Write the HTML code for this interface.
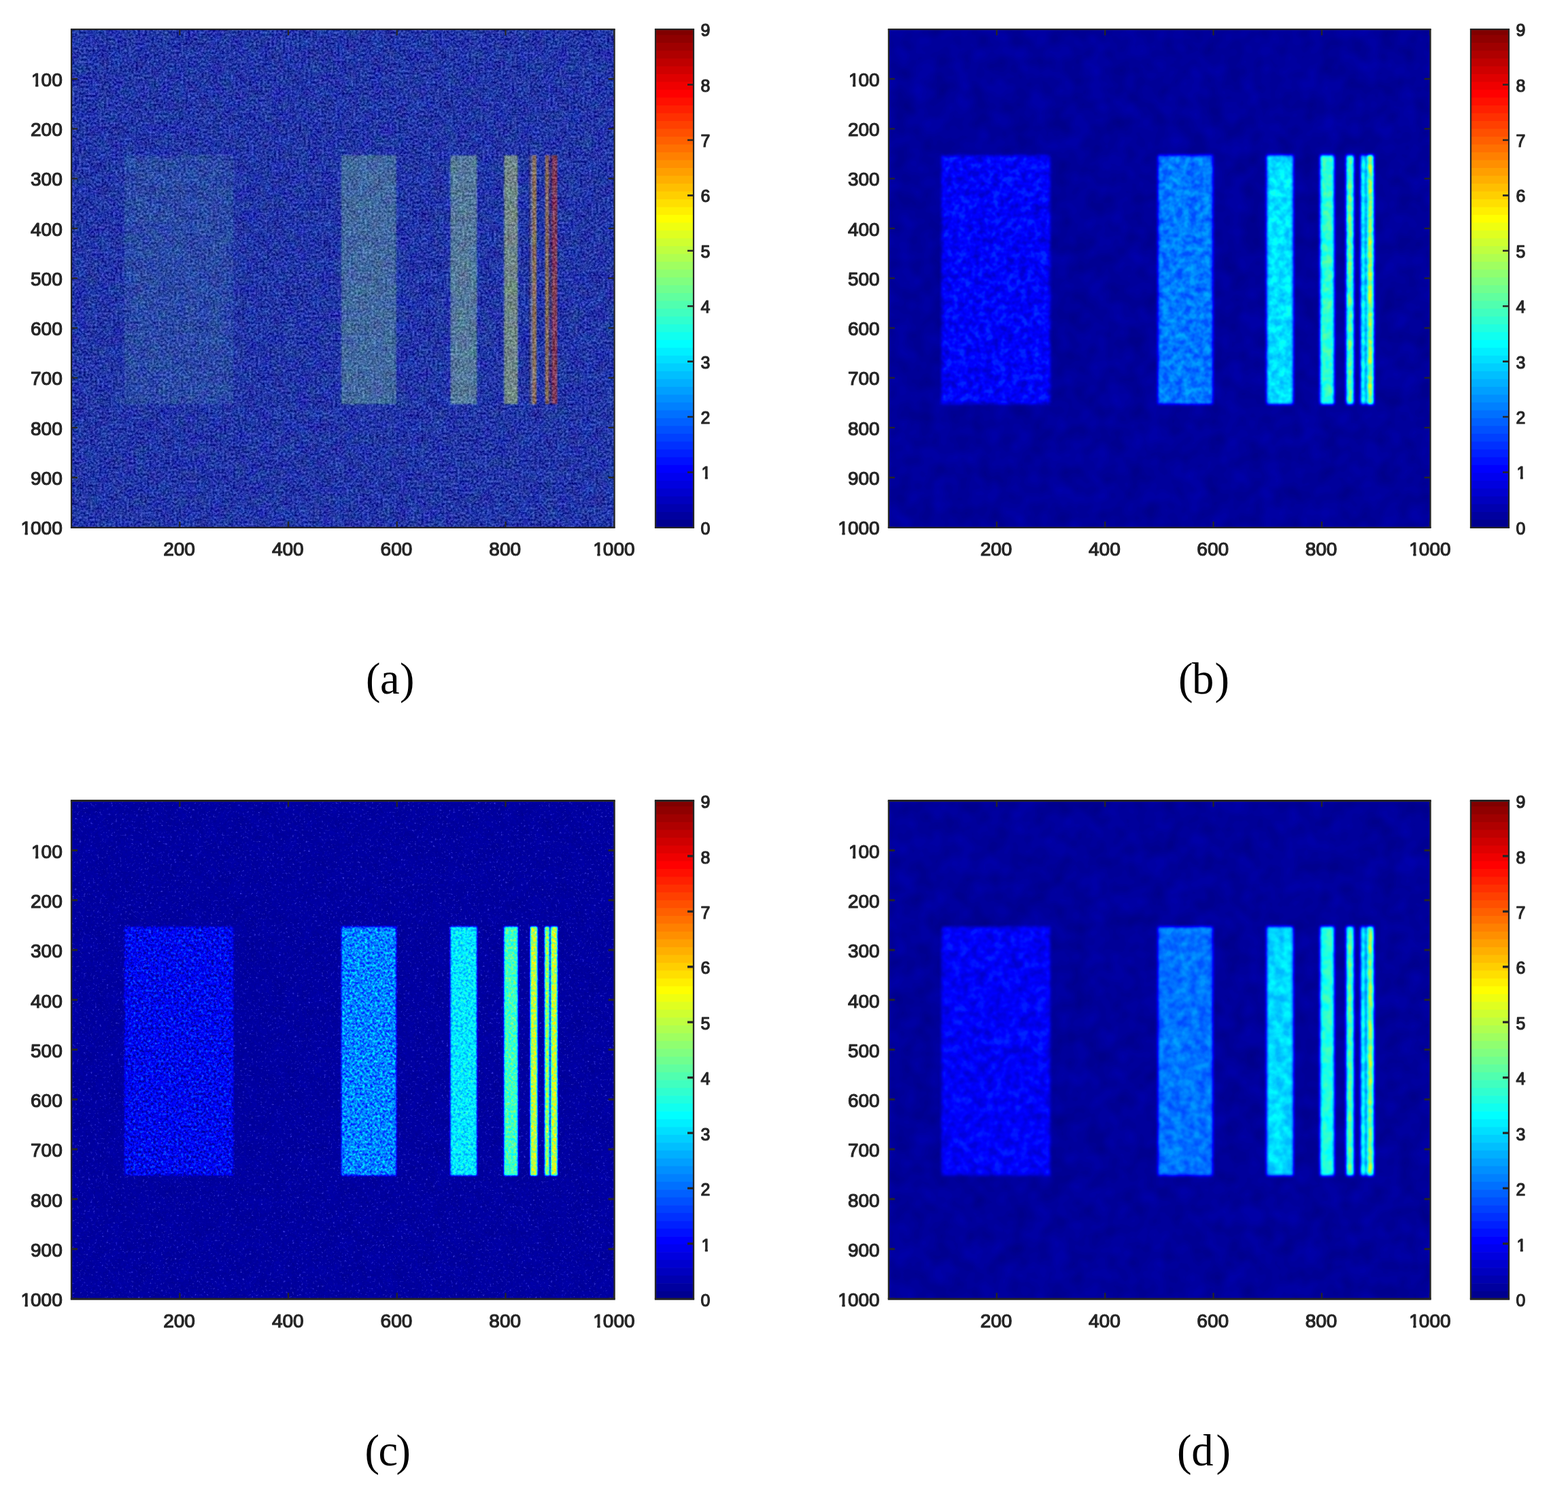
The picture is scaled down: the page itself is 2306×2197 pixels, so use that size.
<!DOCTYPE html>
<html lang="en"><head><meta charset="utf-8"><title>Figure</title>
<style>
html,body{margin:0;padding:0;background:#fff;}
body{width:2306px;height:2197px;overflow:hidden;}
svg{display:block;}
.t,.c{font-family:"Liberation Sans",Arial,Helvetica,sans-serif;fill:#262626;stroke:#262626;stroke-width:1.2px;stroke-linejoin:round;}
.t{font-size:28px;}
.c{font-size:25px;}
.cap{font-family:"Liberation Serif","DejaVu Serif",serif;font-size:64.5px;fill:#000;}
.ax{fill:none;stroke:#262626;}
</style></head><body>
<svg width="2306" height="2197" viewBox="0 0 2306 2197">
<rect x="0" y="0" width="2306" height="2197" fill="#fff"/>
<defs>
<clipPath id="one-t"><path d="M-6 -28L77.84 -28L77.84 4L16.31 4L16.31 -3.6L11.31 -3.6L11.31 4L7.1 4L7.1 -3.6L-6 -3.6Z"/></clipPath>
<clipPath id="one-c"><path d="M-6 -25L69.5 -25L69.5 4L14.8 4L14.8 -3.38L10.3 -3.38L10.3 4L6.35 4L6.35 -3.38L-6 -3.38Z"/></clipPath>
<g id="cb">
<rect x="0" y="0" width="56" height="9" fill="#800000"/>
<rect x="0" y="8.4" width="56" height="12.1" fill="#8f0000"/>
<rect x="0" y="19.9" width="56" height="12.1" fill="#9f0000"/>
<rect x="0" y="31.4" width="56" height="12.1" fill="#af0000"/>
<rect x="0" y="42.9" width="56" height="12.1" fill="#bf0000"/>
<rect x="0" y="54.39" width="56" height="12.1" fill="#cf0000"/>
<rect x="0" y="65.89" width="56" height="12.1" fill="#df0000"/>
<rect x="0" y="77.39" width="56" height="12.1" fill="#ef0000"/>
<rect x="0" y="88.89" width="56" height="12.1" fill="#ff0000"/>
<rect x="0" y="100.39" width="56" height="12.1" fill="#ff1000"/>
<rect x="0" y="111.89" width="56" height="12.1" fill="#ff2000"/>
<rect x="0" y="123.38" width="56" height="12.1" fill="#ff3000"/>
<rect x="0" y="134.88" width="56" height="12.1" fill="#ff4000"/>
<rect x="0" y="146.38" width="56" height="12.1" fill="#ff5000"/>
<rect x="0" y="157.88" width="56" height="12.1" fill="#ff6000"/>
<rect x="0" y="169.38" width="56" height="12.1" fill="#ff7000"/>
<rect x="0" y="180.88" width="56" height="12.1" fill="#ff8000"/>
<rect x="0" y="192.37" width="56" height="12.1" fill="#ff8f00"/>
<rect x="0" y="203.87" width="56" height="12.1" fill="#ff9f00"/>
<rect x="0" y="215.37" width="56" height="12.1" fill="#ffaf00"/>
<rect x="0" y="226.87" width="56" height="12.1" fill="#ffbf00"/>
<rect x="0" y="238.37" width="56" height="12.1" fill="#ffcf00"/>
<rect x="0" y="249.87" width="56" height="12.1" fill="#ffdf00"/>
<rect x="0" y="261.37" width="56" height="12.1" fill="#ffef00"/>
<rect x="0" y="272.86" width="56" height="12.1" fill="#ffff00"/>
<rect x="0" y="284.36" width="56" height="12.1" fill="#efff10"/>
<rect x="0" y="295.86" width="56" height="12.1" fill="#dfff20"/>
<rect x="0" y="307.36" width="56" height="12.1" fill="#cfff30"/>
<rect x="0" y="318.86" width="56" height="12.1" fill="#bfff40"/>
<rect x="0" y="330.36" width="56" height="12.1" fill="#afff50"/>
<rect x="0" y="341.85" width="56" height="12.1" fill="#9fff60"/>
<rect x="0" y="353.35" width="56" height="12.1" fill="#8fff70"/>
<rect x="0" y="364.85" width="56" height="12.1" fill="#80ff80"/>
<rect x="0" y="376.35" width="56" height="12.1" fill="#70ff8f"/>
<rect x="0" y="387.85" width="56" height="12.1" fill="#60ff9f"/>
<rect x="0" y="399.35" width="56" height="12.1" fill="#50ffaf"/>
<rect x="0" y="410.84" width="56" height="12.1" fill="#40ffbf"/>
<rect x="0" y="422.34" width="56" height="12.1" fill="#30ffcf"/>
<rect x="0" y="433.84" width="56" height="12.1" fill="#20ffdf"/>
<rect x="0" y="445.34" width="56" height="12.1" fill="#10ffef"/>
<rect x="0" y="456.84" width="56" height="12.1" fill="#00ffff"/>
<rect x="0" y="468.34" width="56" height="12.1" fill="#00efff"/>
<rect x="0" y="479.83" width="56" height="12.1" fill="#00dfff"/>
<rect x="0" y="491.33" width="56" height="12.1" fill="#00cfff"/>
<rect x="0" y="502.83" width="56" height="12.1" fill="#00bfff"/>
<rect x="0" y="514.33" width="56" height="12.1" fill="#00afff"/>
<rect x="0" y="525.83" width="56" height="12.1" fill="#009fff"/>
<rect x="0" y="537.33" width="56" height="12.1" fill="#008fff"/>
<rect x="0" y="548.83" width="56" height="12.1" fill="#0080ff"/>
<rect x="0" y="560.32" width="56" height="12.1" fill="#0070ff"/>
<rect x="0" y="571.82" width="56" height="12.1" fill="#0060ff"/>
<rect x="0" y="583.32" width="56" height="12.1" fill="#0050ff"/>
<rect x="0" y="594.82" width="56" height="12.1" fill="#0040ff"/>
<rect x="0" y="606.32" width="56" height="12.1" fill="#0030ff"/>
<rect x="0" y="617.82" width="56" height="12.1" fill="#0020ff"/>
<rect x="0" y="629.31" width="56" height="12.1" fill="#0010ff"/>
<rect x="0" y="640.81" width="56" height="12.1" fill="#0000ff"/>
<rect x="0" y="652.31" width="56" height="12.1" fill="#0000ef"/>
<rect x="0" y="663.81" width="56" height="12.1" fill="#0000df"/>
<rect x="0" y="675.31" width="56" height="12.1" fill="#0000cf"/>
<rect x="0" y="686.81" width="56" height="12.1" fill="#0000bf"/>
<rect x="0" y="698.3" width="56" height="12.1" fill="#0000af"/>
<rect x="0" y="709.8" width="56" height="12.1" fill="#00009f"/>
<rect x="0" y="721.3" width="56" height="11.5" fill="#00008f"/>
</g>
<clipPath id="clip-a"><rect x="105" y="43.1" width="798.6" height="732.8"/></clipPath>
<filter id="f-a" filterUnits="userSpaceOnUse" x="99" y="37.1" width="810.6" height="744.8" color-interpolation-filters="sRGB">
<feGaussianBlur in="SourceGraphic" stdDeviation="1.3" result="src"/>
<feTurbulence type="fractalNoise" baseFrequency="0.3" numOctaves="3" seed="11" result="tb"/>
<feColorMatrix in="tb" type="matrix" values="1 0 0 0 0 1 0 0 0 0 1 0 0 0 0 0 0 0 0 1" result="n"/>
<feTurbulence type="fractalNoise" baseFrequency="0.055" numOctaves="2" seed="4" result="tc"/>
<feColorMatrix in="tc" type="matrix" values="0.5 0 0 0 0.25 0 1 0 0 0 0 0 1 0 0 0 0 0 0 1" result="nc"/>
<feComposite in="src" in2="n" operator="arithmetic" k1="0" k2="1" k3="0.55" k4="-0.275" result="s1"/>
<feComposite in="s1" in2="nc" operator="arithmetic" k1="0" k2="1" k3="0.16" k4="-0.08"/>
</filter>
<clipPath id="clip-b"><rect x="1306.9" y="43.1" width="796.7" height="732.8"/></clipPath>
<filter id="f-b" filterUnits="userSpaceOnUse" x="1300.9" y="37.1" width="808.7" height="744.8" color-interpolation-filters="sRGB">
<feGaussianBlur in="SourceGraphic" stdDeviation="1.9" result="src"/>
<feTurbulence type="fractalNoise" baseFrequency="0.1" numOctaves="2" seed="5" result="tb"/>
<feColorMatrix in="tb" type="matrix" values="1 0 0 0 0 1 0 0 0 0 1 0 0 0 0 0 0 0 0 1" result="n"/>
<feTurbulence type="fractalNoise" baseFrequency="0.035" numOctaves="2" seed="8" result="tc"/>
<feColorMatrix in="tc" type="matrix" values="1 0 0 0 0 1 0 0 0 0 1 0 0 0 0 0 0 0 0 1" result="nc"/>
<feColorMatrix in="src" type="matrix" values="1 0 0 0 0 1 0 0 0 0 1 0 0 0 0 0 0 0 0 1" result="base"/>
<feColorMatrix in="src" type="matrix" values="0 1 0 0 0 0 1 0 0 0 0 1 0 0 0 0 0 0 0 1" result="gain"/>
<feColorMatrix in="n" type="matrix" values="2 0 0 0 -0.5 2 0 0 0 -0.5 2 0 0 0 -0.5 0 0 0 0 1" result="n2"/>
<feComposite in="gain" in2="n2" operator="arithmetic" k1="0.15" k2="0" k3="0" k4="0" result="gn"/>
<feComposite in="base" in2="gn" operator="arithmetic" k1="0" k2="1" k3="1" k4="0" result="b1"/>
<feComposite in="b1" in2="nc" operator="arithmetic" k1="0" k2="1" k3="0.045" k4="0" result="v"/>
<feComponentTransfer in="v"><feFuncR type="table" tableValues="0 0 0 0 0.5 1 1 1 0.5"/><feFuncG type="table" tableValues="0 0 0.5 1 1 1 0.5 0 0"/><feFuncB type="table" tableValues="0.5 1 1 1 0.5 0 0 0 0"/></feComponentTransfer>
</filter>
<clipPath id="clip-c"><rect x="105" y="1177.5" width="798.6" height="732.8"/></clipPath>
<filter id="f-c" filterUnits="userSpaceOnUse" x="99" y="1171.5" width="810.6" height="744.8" color-interpolation-filters="sRGB">
<feGaussianBlur in="SourceGraphic" stdDeviation="0.9" result="src"/>
<feTurbulence type="fractalNoise" baseFrequency="0.27" numOctaves="2" seed="21" result="tb"/>
<feColorMatrix in="tb" type="matrix" values="1 0 0 0 0 1 0 0 0 0 1 0 0 0 0 0 0 0 0 1" result="n"/>
<feTurbulence type="fractalNoise" baseFrequency="0.05" numOctaves="2" seed="3" result="tc"/>
<feColorMatrix in="tc" type="matrix" values="1 0 0 0 0 1 0 0 0 0 1 0 0 0 0 0 0 0 0 1" result="nc"/>
<feColorMatrix in="src" type="matrix" values="1 0 0 0 0 1 0 0 0 0 1 0 0 0 0 0 0 0 0 1" result="base"/>
<feColorMatrix in="src" type="matrix" values="0 1 0 0 0 0 1 0 0 0 0 1 0 0 0 0 0 0 0 1" result="gain"/>
<feColorMatrix in="n" type="matrix" values="2 0 0 0 -0.5 2 0 0 0 -0.5 2 0 0 0 -0.5 0 0 0 0 1" result="n2"/>
<feComposite in="gain" in2="n2" operator="arithmetic" k1="0.2" k2="0" k3="0" k4="0" result="gn"/>
<feComposite in="base" in2="gn" operator="arithmetic" k1="0" k2="1" k3="1" k4="0" result="b1"/>
<feComposite in="b1" in2="nc" operator="arithmetic" k1="0" k2="1" k3="0.02" k4="0" result="v"/>
<feComponentTransfer in="v" result="j"><feFuncR type="table" tableValues="0 0 0 0 0.5 1 1 1 0.5"/><feFuncG type="table" tableValues="0 0 0.5 1 1 1 0.5 0 0"/><feFuncB type="table" tableValues="0.5 1 1 1 0.5 0 0 0 0"/></feComponentTransfer>
<feTurbulence type="fractalNoise" baseFrequency="0.3" numOctaves="2" seed="7" result="ts"/>
<feColorMatrix in="ts" type="matrix" values="1 0 0 0 0 1 0 0 0 0 1 0 0 0 0 0 0 0 0 1" result="ns"/>
<feComponentTransfer in="ns" result="sp"><feFuncR type="linear" slope="4" intercept="-2.5"/><feFuncG type="linear" slope="4" intercept="-2.5"/><feFuncB type="linear" slope="4" intercept="-2.5"/></feComponentTransfer>
<feComposite in="j" in2="sp" operator="arithmetic" k1="0" k2="1" k3="0.22" k4="0"/>
</filter>
<clipPath id="clip-d"><rect x="1306.9" y="1177.5" width="796.7" height="732.8"/></clipPath>
<filter id="f-d" filterUnits="userSpaceOnUse" x="1300.9" y="1171.5" width="808.7" height="744.8" color-interpolation-filters="sRGB">
<feGaussianBlur in="SourceGraphic" stdDeviation="2.2" result="src"/>
<feTurbulence type="fractalNoise" baseFrequency="0.08" numOctaves="2" seed="5" result="tb"/>
<feColorMatrix in="tb" type="matrix" values="1 0 0 0 0 1 0 0 0 0 1 0 0 0 0 0 0 0 0 1" result="n"/>
<feTurbulence type="fractalNoise" baseFrequency="0.035" numOctaves="2" seed="8" result="tc"/>
<feColorMatrix in="tc" type="matrix" values="1 0 0 0 0 1 0 0 0 0 1 0 0 0 0 0 0 0 0 1" result="nc"/>
<feColorMatrix in="src" type="matrix" values="1 0 0 0 0 1 0 0 0 0 1 0 0 0 0 0 0 0 0 1" result="base"/>
<feColorMatrix in="src" type="matrix" values="0 1 0 0 0 0 1 0 0 0 0 1 0 0 0 0 0 0 0 1" result="gain"/>
<feColorMatrix in="n" type="matrix" values="2 0 0 0 -0.5 2 0 0 0 -0.5 2 0 0 0 -0.5 0 0 0 0 1" result="n2"/>
<feComposite in="gain" in2="n2" operator="arithmetic" k1="0.15" k2="0" k3="0" k4="0" result="gn"/>
<feComposite in="base" in2="gn" operator="arithmetic" k1="0" k2="1" k3="1" k4="0" result="b1"/>
<feComposite in="b1" in2="nc" operator="arithmetic" k1="0" k2="1" k3="0.045" k4="0" result="v"/>
<feComponentTransfer in="v"><feFuncR type="table" tableValues="0 0 0 0 0.5 1 1 1 0.5"/><feFuncG type="table" tableValues="0 0 0.5 1 1 1 0.5 0 0"/><feFuncB type="table" tableValues="0.5 1 1 1 0.5 0 0 0 0"/></feComponentTransfer>
</filter>
</defs>
<g id="panel-a">
<g clip-path="url(#clip-a)"><g filter="url(#f-a)">
<rect x="97" y="35.1" width="814.6" height="748.8" fill="#2235a7"/>
<rect x="183.02" y="228.28" width="160.28" height="365.96" fill="#2b49a6"/>
<rect x="501.98" y="228.28" width="80.82" height="365.96" fill="#4268a0"/>
<rect x="662.42" y="228.28" width="38.89" height="365.96" fill="#54789b"/>
<rect x="741.32" y="228.28" width="20.2" height="365.96" fill="#708787"/>
<rect x="777.98" y="228.28" width="2.32" height="365.96" fill="#28286e"/>
<rect x="780.3" y="228.28" width="2.72" height="365.96" fill="#646ea5"/>
<rect x="783.01" y="228.28" width="5.99" height="365.96" fill="#8c705a"/>
<rect x="801.78" y="228.28" width="5.75" height="365.96" fill="#8c6e58"/>
<rect x="807.53" y="228.28" width="4.23" height="365.96" fill="#3c3278"/>
<rect x="811.76" y="228.28" width="7.83" height="365.96" fill="#823c58"/>
</g></g>
<path class="ax" d="M264.32 775.9v-9M264.32 43.1v9M424.04 775.9v-9M424.04 43.1v9M583.76 775.9v-9M583.76 43.1v9M743.48 775.9v-9M743.48 43.1v9M903.2 775.9v-9M903.2 43.1v9M105 43.1v732.8M903.6 43.1v732.8" stroke-width="2.2"/>
<path class="ax" d="M105 116.01h9M903.6 116.01h-9M105 189.29h9M903.6 189.29h-9M105 262.57h9M903.6 262.57h-9M105 335.85h9M903.6 335.85h-9M105 409.13h9M903.6 409.13h-9M105 482.41h9M903.6 482.41h-9M105 555.69h9M903.6 555.69h-9M105 628.97h9M903.6 628.97h-9M105 702.25h9M903.6 702.25h-9M105 775.53h9M903.6 775.53h-9M103.9 43.1h800.8M103.9 775.9h800.8" stroke-width="2.3"/>
<text class="t" clip-path="url(#one-t)" transform="translate(45 126.71)" dx="1 -1">100</text>
<text class="t" x="45" y="199.99">200</text>
<text class="t" x="45" y="273.27">300</text>
<text class="t" x="45" y="346.55">400</text>
<text class="t" x="45" y="419.83">500</text>
<text class="t" x="45" y="493.11">600</text>
<text class="t" x="45" y="566.39">700</text>
<text class="t" x="45" y="639.67">800</text>
<text class="t" x="45" y="712.95">900</text>
<text class="t" clip-path="url(#one-t)" transform="translate(29.43 786.23)" dx="1 -1">1000</text>
<text class="t" x="240.17" y="816.5">200</text>
<text class="t" x="399.89" y="816.5">400</text>
<text class="t" x="559.61" y="816.5">600</text>
<text class="t" x="719.33" y="816.5">800</text>
<text class="t" clip-path="url(#one-t)" transform="translate(871.26 816.5)" dx="1 -1">1000</text>
<use href="#cb" x="964" y="43.1"/>
<path class="ax" d="M1020 694.48h-9M1020 613.06h-9M1020 531.63h-9M1020 450.21h-9M1020 368.79h-9M1020 287.37h-9M1020 205.94h-9M1020 124.52h-9" stroke-width="2.6"/>
<path class="ax" d="M964 43.1v732.8M1020 43.1v732.8" stroke-width="2.2"/>
<path class="ax" d="M962.9 43.1h58.2M962.9 775.9h58.2" stroke-width="2.3"/>
<text class="c" x="1030.5" y="785.9">0</text>
<text class="c" clip-path="url(#one-c)" transform="translate(1030.5 704.48)" dx="1">1</text>
<text class="c" x="1030.5" y="623.06">2</text>
<text class="c" x="1030.5" y="541.63">3</text>
<text class="c" x="1030.5" y="460.21">4</text>
<text class="c" x="1030.5" y="378.79">5</text>
<text class="c" x="1030.5" y="297.37">6</text>
<text class="c" x="1030.5" y="215.94">7</text>
<text class="c" x="1030.5" y="134.52">8</text>
<text class="c" x="1030.5" y="53.1">9</text>
</g>
<g id="panel-b">
<g clip-path="url(#clip-b)"><g filter="url(#f-b)">
<rect x="1298.9" y="35.1" width="812.7" height="748.8" fill="rgb(1,0,0)"/>
<rect x="1384.74" y="228.28" width="159.9" height="365.96" fill="rgb(16,128,0)"/>
<rect x="1702.94" y="228.28" width="80.63" height="365.96" fill="rgb(47,128,0)"/>
<rect x="1863" y="228.28" width="38.8" height="365.96" fill="rgb(74,115,0)"/>
<rect x="1941.71" y="228.28" width="20.16" height="365.96" fill="rgb(92,128,0)"/>
<rect x="1980.27" y="228.28" width="10.28" height="365.96" fill="rgb(103,178,0)"/>
<rect x="2001.46" y="228.28" width="6.69" height="365.96" fill="rgb(88,178,0)"/>
<rect x="2010.39" y="228.28" width="9.48" height="365.96" fill="rgb(115,230,0)"/>
</g></g>
<path class="ax" d="M1465.84 775.9v-9M1465.84 43.1v9M1625.18 775.9v-9M1625.18 43.1v9M1784.52 775.9v-9M1784.52 43.1v9M1943.86 775.9v-9M1943.86 43.1v9M2103.2 775.9v-9M2103.2 43.1v9M1306.9 43.1v732.8M2103.6 43.1v732.8" stroke-width="2.2"/>
<path class="ax" d="M1306.9 116.01h9M2103.6 116.01h-9M1306.9 189.29h9M2103.6 189.29h-9M1306.9 262.57h9M2103.6 262.57h-9M1306.9 335.85h9M2103.6 335.85h-9M1306.9 409.13h9M2103.6 409.13h-9M1306.9 482.41h9M2103.6 482.41h-9M1306.9 555.69h9M2103.6 555.69h-9M1306.9 628.97h9M2103.6 628.97h-9M1306.9 702.25h9M2103.6 702.25h-9M1306.9 775.53h9M2103.6 775.53h-9M1305.8 43.1h798.9M1305.8 775.9h798.9" stroke-width="2.3"/>
<text class="t" clip-path="url(#one-t)" transform="translate(1246.9 126.71)" dx="1 -1">100</text>
<text class="t" x="1246.9" y="199.99">200</text>
<text class="t" x="1246.9" y="273.27">300</text>
<text class="t" x="1246.9" y="346.55">400</text>
<text class="t" x="1246.9" y="419.83">500</text>
<text class="t" x="1246.9" y="493.11">600</text>
<text class="t" x="1246.9" y="566.39">700</text>
<text class="t" x="1246.9" y="639.67">800</text>
<text class="t" x="1246.9" y="712.95">900</text>
<text class="t" clip-path="url(#one-t)" transform="translate(1231.33 786.23)" dx="1 -1">1000</text>
<text class="t" x="1441.69" y="816.5">200</text>
<text class="t" x="1601.03" y="816.5">400</text>
<text class="t" x="1760.37" y="816.5">600</text>
<text class="t" x="1919.71" y="816.5">800</text>
<text class="t" clip-path="url(#one-t)" transform="translate(2071.27 816.5)" dx="1 -1">1000</text>
<use href="#cb" x="2163" y="43.1"/>
<path class="ax" d="M2219 694.48h-9M2219 613.06h-9M2219 531.63h-9M2219 450.21h-9M2219 368.79h-9M2219 287.37h-9M2219 205.94h-9M2219 124.52h-9" stroke-width="2.6"/>
<path class="ax" d="M2163 43.1v732.8M2219 43.1v732.8" stroke-width="2.2"/>
<path class="ax" d="M2161.9 43.1h58.2M2161.9 775.9h58.2" stroke-width="2.3"/>
<text class="c" x="2229.5" y="785.9">0</text>
<text class="c" clip-path="url(#one-c)" transform="translate(2229.5 704.48)" dx="1">1</text>
<text class="c" x="2229.5" y="623.06">2</text>
<text class="c" x="2229.5" y="541.63">3</text>
<text class="c" x="2229.5" y="460.21">4</text>
<text class="c" x="2229.5" y="378.79">5</text>
<text class="c" x="2229.5" y="297.37">6</text>
<text class="c" x="2229.5" y="215.94">7</text>
<text class="c" x="2229.5" y="134.52">8</text>
<text class="c" x="2229.5" y="53.1">9</text>
</g>
<g id="panel-c">
<g clip-path="url(#clip-c)"><g filter="url(#f-c)">
<rect x="97" y="1169.5" width="814.6" height="748.8" fill="rgb(4,15,0)"/>
<rect x="183.02" y="1362.68" width="160.28" height="365.96" fill="rgb(3,230,0)"/>
<rect x="501.98" y="1362.68" width="80.82" height="365.96" fill="rgb(36,255,0)"/>
<rect x="662.42" y="1362.68" width="38.89" height="365.96" fill="rgb(69,178,0)"/>
<rect x="741.32" y="1362.68" width="20.2" height="365.96" fill="rgb(91,178,0)"/>
<rect x="779.98" y="1362.68" width="10.3" height="365.96" fill="rgb(120,204,0)"/>
<rect x="801.22" y="1362.68" width="6.71" height="365.96" fill="rgb(110,230,0)"/>
<rect x="810.16" y="1362.68" width="9.5" height="365.96" fill="rgb(120,230,0)"/>
</g></g>
<path class="ax" d="M264.32 1910.3v-9M264.32 1177.5v9M424.04 1910.3v-9M424.04 1177.5v9M583.76 1910.3v-9M583.76 1177.5v9M743.48 1910.3v-9M743.48 1177.5v9M903.2 1910.3v-9M903.2 1177.5v9M105 1177.5v732.8M903.6 1177.5v732.8" stroke-width="2.3"/>
<path class="ax" d="M105 1250.41h9M903.6 1250.41h-9M105 1323.69h9M903.6 1323.69h-9M105 1396.97h9M903.6 1396.97h-9M105 1470.25h9M903.6 1470.25h-9M105 1543.53h9M903.6 1543.53h-9M105 1616.81h9M903.6 1616.81h-9M105 1690.09h9M903.6 1690.09h-9M105 1763.37h9M903.6 1763.37h-9M105 1836.65h9M903.6 1836.65h-9M105 1909.93h9M903.6 1909.93h-9M103.85 1177.5h800.9M103.85 1910.3h800.9" stroke-width="3"/>
<text class="t" clip-path="url(#one-t)" transform="translate(45 1261.81)" dx="1 -1">100</text>
<text class="t" x="45" y="1335.09">200</text>
<text class="t" x="45" y="1408.37">300</text>
<text class="t" x="45" y="1481.65">400</text>
<text class="t" x="45" y="1554.93">500</text>
<text class="t" x="45" y="1628.21">600</text>
<text class="t" x="45" y="1701.49">700</text>
<text class="t" x="45" y="1774.77">800</text>
<text class="t" x="45" y="1848.05">900</text>
<text class="t" clip-path="url(#one-t)" transform="translate(29.43 1921.33)" dx="1 -1">1000</text>
<text class="t" x="240.17" y="1951.6">200</text>
<text class="t" x="399.89" y="1951.6">400</text>
<text class="t" x="559.61" y="1951.6">600</text>
<text class="t" x="719.33" y="1951.6">800</text>
<text class="t" clip-path="url(#one-t)" transform="translate(871.26 1951.6)" dx="1 -1">1000</text>
<use href="#cb" x="964" y="1177.5"/>
<path class="ax" d="M1020 1828.88h-9M1020 1747.46h-9M1020 1666.03h-9M1020 1584.61h-9M1020 1503.19h-9M1020 1421.77h-9M1020 1340.34h-9M1020 1258.92h-9" stroke-width="3.3"/>
<path class="ax" d="M964 1177.5v732.8M1020 1177.5v732.8" stroke-width="2.3"/>
<path class="ax" d="M962.85 1177.5h58.3M962.85 1910.3h58.3" stroke-width="3"/>
<text class="c" x="1030.5" y="1921">0</text>
<text class="c" clip-path="url(#one-c)" transform="translate(1030.5 1839.58)" dx="1">1</text>
<text class="c" x="1030.5" y="1758.16">2</text>
<text class="c" x="1030.5" y="1676.73">3</text>
<text class="c" x="1030.5" y="1595.31">4</text>
<text class="c" x="1030.5" y="1513.89">5</text>
<text class="c" x="1030.5" y="1432.47">6</text>
<text class="c" x="1030.5" y="1351.04">7</text>
<text class="c" x="1030.5" y="1269.62">8</text>
<text class="c" x="1030.5" y="1188.2">9</text>
</g>
<g id="panel-d">
<g clip-path="url(#clip-d)"><g filter="url(#f-d)">
<rect x="1298.9" y="1169.5" width="812.7" height="748.8" fill="rgb(1,0,0)"/>
<rect x="1384.74" y="1362.68" width="159.9" height="365.96" fill="rgb(17,102,0)"/>
<rect x="1702.94" y="1362.68" width="80.63" height="365.96" fill="rgb(47,107,0)"/>
<rect x="1863" y="1362.68" width="38.8" height="365.96" fill="rgb(73,102,0)"/>
<rect x="1941.71" y="1362.68" width="20.16" height="365.96" fill="rgb(90,115,0)"/>
<rect x="1980.27" y="1362.68" width="10.28" height="365.96" fill="rgb(103,153,0)"/>
<rect x="2001.46" y="1362.68" width="6.69" height="365.96" fill="rgb(88,178,0)"/>
<rect x="2010.39" y="1362.68" width="9.48" height="365.96" fill="rgb(112,230,0)"/>
</g></g>
<path class="ax" d="M1465.84 1910.3v-9M1465.84 1177.5v9M1625.18 1910.3v-9M1625.18 1177.5v9M1784.52 1910.3v-9M1784.52 1177.5v9M1943.86 1910.3v-9M1943.86 1177.5v9M2103.2 1910.3v-9M2103.2 1177.5v9M1306.9 1177.5v732.8M2103.6 1177.5v732.8" stroke-width="2.3"/>
<path class="ax" d="M1306.9 1250.41h9M2103.6 1250.41h-9M1306.9 1323.69h9M2103.6 1323.69h-9M1306.9 1396.97h9M2103.6 1396.97h-9M1306.9 1470.25h9M2103.6 1470.25h-9M1306.9 1543.53h9M2103.6 1543.53h-9M1306.9 1616.81h9M2103.6 1616.81h-9M1306.9 1690.09h9M2103.6 1690.09h-9M1306.9 1763.37h9M2103.6 1763.37h-9M1306.9 1836.65h9M2103.6 1836.65h-9M1306.9 1909.93h9M2103.6 1909.93h-9M1305.75 1177.5h799M1305.75 1910.3h799" stroke-width="3"/>
<text class="t" clip-path="url(#one-t)" transform="translate(1246.9 1261.81)" dx="1 -1">100</text>
<text class="t" x="1246.9" y="1335.09">200</text>
<text class="t" x="1246.9" y="1408.37">300</text>
<text class="t" x="1246.9" y="1481.65">400</text>
<text class="t" x="1246.9" y="1554.93">500</text>
<text class="t" x="1246.9" y="1628.21">600</text>
<text class="t" x="1246.9" y="1701.49">700</text>
<text class="t" x="1246.9" y="1774.77">800</text>
<text class="t" x="1246.9" y="1848.05">900</text>
<text class="t" clip-path="url(#one-t)" transform="translate(1231.33 1921.33)" dx="1 -1">1000</text>
<text class="t" x="1441.69" y="1951.6">200</text>
<text class="t" x="1601.03" y="1951.6">400</text>
<text class="t" x="1760.37" y="1951.6">600</text>
<text class="t" x="1919.71" y="1951.6">800</text>
<text class="t" clip-path="url(#one-t)" transform="translate(2071.27 1951.6)" dx="1 -1">1000</text>
<use href="#cb" x="2163" y="1177.5"/>
<path class="ax" d="M2219 1828.88h-9M2219 1747.46h-9M2219 1666.03h-9M2219 1584.61h-9M2219 1503.19h-9M2219 1421.77h-9M2219 1340.34h-9M2219 1258.92h-9" stroke-width="3.3"/>
<path class="ax" d="M2163 1177.5v732.8M2219 1177.5v732.8" stroke-width="2.3"/>
<path class="ax" d="M2161.85 1177.5h58.3M2161.85 1910.3h58.3" stroke-width="3"/>
<text class="c" x="2229.5" y="1921">0</text>
<text class="c" clip-path="url(#one-c)" transform="translate(2229.5 1839.58)" dx="1">1</text>
<text class="c" x="2229.5" y="1758.16">2</text>
<text class="c" x="2229.5" y="1676.73">3</text>
<text class="c" x="2229.5" y="1595.31">4</text>
<text class="c" x="2229.5" y="1513.89">5</text>
<text class="c" x="2229.5" y="1432.47">6</text>
<text class="c" x="2229.5" y="1351.04">7</text>
<text class="c" x="2229.5" y="1269.62">8</text>
<text class="c" x="2229.5" y="1188.2">9</text>
</g>
<text class="cap" y="1019.5"><tspan x="538">(</tspan><tspan x="559">a</tspan><tspan x="588.1">)</tspan></text>
<text class="cap" y="1019.5"><tspan x="1733">(</tspan><tspan x="1753">b</tspan><tspan x="1786.5">)</tspan></text>
<text class="cap" y="2154.9"><tspan x="536.5">(</tspan><tspan x="556.5">c</tspan><tspan x="582.5">)</tspan></text>
<text class="cap" y="2154.9"><tspan x="1731">(</tspan><tspan x="1752.3">d</tspan><tspan x="1788.4">)</tspan></text>
</svg>
</body></html>
